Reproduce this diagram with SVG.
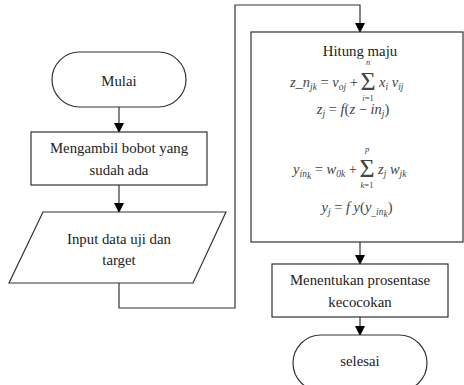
<svg xmlns="http://www.w3.org/2000/svg" width="464" height="385" viewBox="0 0 464 385">
<defs>
<marker id="ah" markerWidth="10" markerHeight="10" refX="9" refY="5" orient="auto" markerUnits="userSpaceOnUse">
<path d="M0,0 L10,5 L0,10 Z" fill="#000"/>
</marker>
<style>
.sh{fill:#fff;stroke:#333;stroke-width:1.2}
.ln{fill:none;stroke:#333;stroke-width:1.2}
.t{font-size:14.8px;fill:#222;text-anchor:middle}
.m{font-size:14.5px;font-style:italic;fill:#444}
.u{font-style:normal}
.s{font-size:9.5px}
.sg{font-size:26px;fill:#444;text-anchor:middle}
.lim{font-size:8.5px;font-style:italic;fill:#444;text-anchor:middle}
</style>
</defs>
<rect width="464" height="385" fill="#fff"/>
<g id="connectors">
<line class="ln" x1="119" y1="107" x2="119" y2="132" marker-end="url(#ah)"/>
<line class="ln" x1="119" y1="185" x2="119" y2="212" marker-end="url(#ah)"/>
<polyline class="ln" points="119,283 119,308 235,308 235,5 360,5 360,32" marker-end="url(#ah)"/>
<line class="ln" x1="360" y1="242" x2="360" y2="264" marker-end="url(#ah)"/>
<line class="ln" x1="360" y1="317" x2="360" y2="335" marker-end="url(#ah)"/>
</g>
<g font-family="'Liberation Serif', 'Times New Roman', serif">
<g id="mulai">
<rect class="sh" x="52" y="52" width="134" height="55" rx="27.5"/>
<text class="t" x="119" y="86">Mulai</text>
</g>
<g id="ambil">
<rect class="sh" x="31" y="132" width="176" height="53"/>
<text class="t" x="119" y="153">Mengambil bobot yang</text>
<text class="t" x="119" y="175">sudah ada</text>
</g>
<g id="input">
<polygon class="sh" points="43,212 226,212 193,283 9,283"/>
<text class="t" x="119" y="244">Input data uji dan</text>
<text class="t" x="119" y="265">target</text>
</g>
<g id="hitung">
<rect class="sh" x="251" y="32" width="212" height="210"/>
<text class="t" x="360" y="56">Hitung maju</text>
<text class="m" x="358" y="87" text-anchor="end">z_n<tspan class="s" dy="3">jk</tspan><tspan class="u" dy="-3"> = </tspan>v<tspan class="s" dy="3">oj</tspan><tspan class="u" dy="-3"> + </tspan></text>
<text class="sg" x="368" y="90">Σ</text>
<text class="lim" x="368" y="65">n</text>
<text class="lim" x="368" y="101"><tspan>i</tspan><tspan font-style="normal">=1</tspan></text>
<text class="m" x="379" y="87">x<tspan class="s" dy="3">i</tspan><tspan dy="-3"> v</tspan><tspan class="s" dy="3">ij</tspan></text>
<text class="m" x="353" y="114" text-anchor="middle">z<tspan class="s" dy="3">j</tspan><tspan class="u" dy="-3"> = </tspan>f<tspan class="u">(</tspan>z<tspan class="u"> − </tspan>in<tspan class="s" dy="3">j</tspan><tspan class="u" dy="-3">)</tspan></text>
<text class="m" x="357" y="174" text-anchor="end">y<tspan class="s" dy="3">in</tspan><tspan class="s" font-size="7" dy="2">k</tspan><tspan class="u" dy="-5"> = </tspan>w<tspan class="s" dy="3">0k</tspan><tspan class="u" dy="-3"> + </tspan></text>
<text class="sg" x="367" y="177">Σ</text>
<text class="lim" x="367" y="152">p</text>
<text class="lim" x="367" y="188"><tspan>k</tspan><tspan font-style="normal">=1</tspan></text>
<text class="m" x="378" y="174">z<tspan class="s" dy="3">j</tspan><tspan dy="-3"> w</tspan><tspan class="s" dy="3">jk</tspan></text>
<text class="m" x="357" y="212" text-anchor="middle">y<tspan class="s" dy="3">j</tspan><tspan class="u" dy="-3"> = </tspan>f y<tspan class="u">(</tspan>y<tspan class="s" dy="3">_in</tspan><tspan class="s" font-size="7" dy="2">k</tspan><tspan class="u" dy="-5">)</tspan></text>
</g>
<g id="menentukan">
<rect class="sh" x="272" y="264" width="176" height="53"/>
<text class="t" x="360" y="285">Menentukan prosentase</text>
<text class="t" x="360" y="307">kecocokan</text>
</g>
<g id="selesai">
<rect class="sh" x="293" y="335" width="134" height="56" rx="28"/>
<text class="t" x="360" y="366">selesai</text>
</g>
</g>
</svg>
